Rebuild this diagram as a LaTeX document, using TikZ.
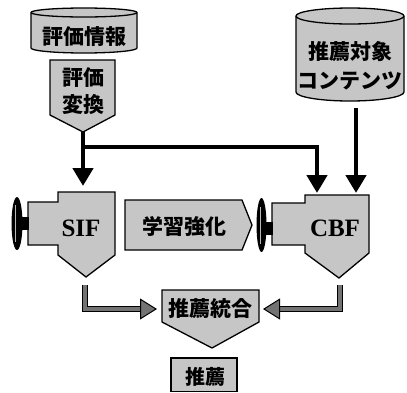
\documentclass[tikz,border=0pt]{standalone}
\usepackage{fontspec}
\newfontfamily\jp{Noto Sans CJK JP}
\newfontfamily\tnr{Liberation Serif}
\usetikzlibrary{arrows.meta}
\begin{document}
\begin{tikzpicture}[x=1pt,y=-1pt,
  box/.style={draw=black, line width=1.3pt, fill=gray!45, line join=miter},
  jtext/.style={font=\jp\bfseries\fontsize{21}{26}\selectfont, align=center, inner sep=0pt},
  etext/.style={font=\tnr\bfseries\fontsize{25}{25}\selectfont, inner sep=0pt},
  blk/.style={line width=4.5pt, line join=miter, -{Triangle[width=20pt,length=18pt]}},
  gry/.style={line width=4pt, draw=black!55, line join=miter,
    preaction={draw=black, line width=6.4pt, shorten >=12pt, arrows=-},
    -{Triangle[width=21pt,length=17pt,color=black,fill=black!55,line width=1pt]}},
  knobfill/.style={fill=black},
  shine/.style={draw=gray!55, line width=0.8pt}
]
\useasboundingbox (0,0) rectangle (407,392);

% cylinder: evaluation info
\path[box] (31,12.5) -- (31,48) arc[start angle=180,end angle=360,x radius=53pt,y radius=5pt]
  -- (137,12.5) arc[start angle=0,end angle=180,x radius=53pt,y radius=4.5pt] -- cycle;
\draw[line width=1.3pt] (31,12.5) arc[start angle=180,end angle=360,x radius=53pt,y radius=4.5pt];
\node[jtext] (hj) at (84,37) {評価情報};

% cylinder: target contents
\path[box] (296,16) -- (296,92) arc[start angle=180,end angle=360,x radius=54pt,y radius=9pt]
  -- (404,16) arc[start angle=0,end angle=180,x radius=54pt,y radius=8pt] -- cycle;
\draw[line width=1.3pt] (296,16) arc[start angle=180,end angle=360,x radius=54pt,y radius=8pt];
\node[jtext, font=\jp\bfseries\fontsize{21}{29}\selectfont] (tc) at (350,65.5) {推薦対象\\コンテンツ};

% evaluation conversion
\path[box] (50,60) -- (115,60) -- (115,115) -- (83,132) -- (50,115) -- cycle;
\node[jtext, font=\jp\bfseries\fontsize{21}{27}\selectfont] (hh) at (83,91.5) {評価\\変換};
\coordinate (hhtip) at (83,132);

% SIF
\path[box] (28,202) -- (58,202) -- (58,192) -- (115,192) -- (115,255) -- (86,277) -- (58,255) -- (58,245) -- (28,245) -- cycle;
\node[etext] (sif) at (81,228.5) {SIF};
\path[knobfill] (22,217) rectangle (28.6,230);
\path[knobfill] (17,223.5) ellipse[x radius=5.5pt, y radius=26.5pt];
\draw[shine] (15.5,205) -- (15.5,242);

% CBF
\path[box] (272,203) -- (305,203) -- (305,195) -- (369,195) -- (369,253) -- (339,278) -- (305,253) -- (305,245) -- (272,245) -- cycle;
\node[etext] (cbf) at (335,228.5) {CBF};
\path[knobfill] (265,222) rectangle (272.6,235);
\path[knobfill] (261.5,225) ellipse[x radius=5pt, y radius=27pt];
\draw[shine] (260,207) -- (260,244);

% learning enhancement
\path[box] (125,200) -- (242,200) -- (252,225) -- (242,250) -- (125,250) -- cycle;
\node[jtext] (gk) at (184,226) {学習強化};

% merge
\path[box] (162,290) -- (259,290) -- (259,322) -- (212,348) -- (162,322) -- cycle;
\node[jtext] (mg) at (210,308.5) {推薦統合};

% recommendation
\path[box] (171,358) rectangle (237,391.3);
\node[jtext, font=\jp\bfseries\fontsize{20}{26}\selectfont] (rc) at (205,377) {推薦};

% black connectors
\coordinate (sifin) at (83,186);
\coordinate (j) at (83,147);
\coordinate (cbfin1) at (317,193);
\coordinate (tcout) at (356,108);
\coordinate (cbfin2) at (356,193);
\draw[blk] (hhtip) -- (sifin);
\draw[blk] (j) -| (cbfin1);
\draw[blk] (tcout) -- (cbfin2);

% gray connectors
\coordinate (sifout) at (85,285);
\coordinate (mgl) at (157,309);
\coordinate (cbfout) at (340,285);
\coordinate (mgr) at (263,309);
\draw[gry] (sifout) |- (mgl);
\draw[gry] (cbfout) |- (mgr);
\end{tikzpicture}
\end{document}
